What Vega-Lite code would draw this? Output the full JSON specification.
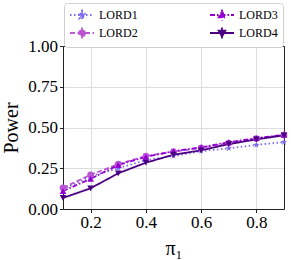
{
  "$schema": "https://vega.github.io/schema/vega-lite/v6.json",
  "autosize": "none",
  "width": 221,
  "height": 163,
  "padding": {"left": 63, "top": 46, "right": 7, "bottom": 51},
  "background": "white",
  "config": {
    "font": "Liberation Serif",
    "view": {"stroke": null},
    "legend": {"labelFont": "Liberation Serif"},
    "axis": {
      "domain": true,
      "domainColor": "#222",
      "domainWidth": 1,
      "tickColor": "#222",
      "tickSize": 3.5,
      "labelColor": "#000",
      "labelFontSize": 17,
      "labelFont": "Liberation Serif",
      "titleFont": "Liberation Serif",
      "titleFontWeight": "normal",
      "titleColor": "#000",
      "titleFontSize": 20,
      "gridColor": "#dddddd",
      "gridWidth": 1,
      "labelPadding": 2
    }
  },
  "data": {"values": [
    {"method": "LORD1", "pi": 0.1, "power": 0.12},
    {"method": "LORD1", "pi": 0.2, "power": 0.2},
    {"method": "LORD1", "pi": 0.3, "power": 0.25},
    {"method": "LORD1", "pi": 0.4, "power": 0.3},
    {"method": "LORD1", "pi": 0.5, "power": 0.325},
    {"method": "LORD1", "pi": 0.6, "power": 0.355},
    {"method": "LORD1", "pi": 0.7, "power": 0.372},
    {"method": "LORD1", "pi": 0.8, "power": 0.393},
    {"method": "LORD1", "pi": 0.9, "power": 0.41},
    {"method": "LORD2", "pi": 0.1, "power": 0.13},
    {"method": "LORD2", "pi": 0.2, "power": 0.21},
    {"method": "LORD2", "pi": 0.3, "power": 0.275},
    {"method": "LORD2", "pi": 0.4, "power": 0.325},
    {"method": "LORD2", "pi": 0.5, "power": 0.352},
    {"method": "LORD2", "pi": 0.6, "power": 0.375},
    {"method": "LORD2", "pi": 0.7, "power": 0.405},
    {"method": "LORD2", "pi": 0.8, "power": 0.432},
    {"method": "LORD2", "pi": 0.9, "power": 0.455},
    {"method": "LORD3", "pi": 0.1, "power": 0.11},
    {"method": "LORD3", "pi": 0.2, "power": 0.185},
    {"method": "LORD3", "pi": 0.3, "power": 0.27},
    {"method": "LORD3", "pi": 0.4, "power": 0.32},
    {"method": "LORD3", "pi": 0.5, "power": 0.355},
    {"method": "LORD3", "pi": 0.6, "power": 0.378},
    {"method": "LORD3", "pi": 0.7, "power": 0.41},
    {"method": "LORD3", "pi": 0.8, "power": 0.435},
    {"method": "LORD3", "pi": 0.9, "power": 0.455},
    {"method": "LORD4", "pi": 0.1, "power": 0.068},
    {"method": "LORD4", "pi": 0.2, "power": 0.127},
    {"method": "LORD4", "pi": 0.3, "power": 0.219},
    {"method": "LORD4", "pi": 0.4, "power": 0.284},
    {"method": "LORD4", "pi": 0.5, "power": 0.333},
    {"method": "LORD4", "pi": 0.6, "power": 0.36},
    {"method": "LORD4", "pi": 0.7, "power": 0.398},
    {"method": "LORD4", "pi": 0.8, "power": 0.427},
    {"method": "LORD4", "pi": 0.9, "power": 0.452}
  ]},
  "resolve": {"axis": {"x": "independent", "y": "independent"}},
  "layer": [
    {
      "encoding": {
        "x": {"field": "pi", "type": "quantitative", "title": "π₁",
          "scale": {"domain": [0.1, 0.9], "nice": false, "zero": false},
          "axis": {"orient": "bottom", "values": [0.2, 0.4, 0.6, 0.8], "format": ".1f", "titlePadding": 8}},
        "y": {"field": "power", "type": "quantitative", "title": "Power",
          "scale": {"domain": [0, 1], "nice": false},
          "axis": {"orient": "left", "values": [0, 0.25, 0.5, 0.75, 1], "format": ".2f", "titlePadding": 6}},
        "color": {"field": "method", "type": "nominal",
          "scale": {"domain": ["LORD1", "LORD3", "LORD2", "LORD4"], "range": ["#7b68ee", "#9400d3", "#ba55d3", "#4b0082"]},
          "legend": {
            "title": null, "orient": "none", "legendX": 1, "legendY": -43,
            "direction": "horizontal", "columns": 2, "columnPadding": 68, "rowPadding": 0,
            "labelFontSize": 12, "labelFont": "Liberation Serif", "labelColor": "#000",
            "symbolSize": 144, "symbolStrokeWidth": 1.8, "symbolOffset": 6, "labelOffset": 10,
            "padding": 5, "fillColor": "white", "strokeColor": "#d0d0d0", "cornerRadius": 3,
            "encode": {"symbols": {"update": {
              "shape": {"signal": "datum.value === 'LORD1' ? 'M-2,0H2M0,-0.9V0.9M0,-0.65L0.153,-0.211L0.618,-0.201L0.247,0.081L0.382,0.526L0,0.26L-0.382,0.526L-0.247,0.081L-0.618,-0.201L-0.153,-0.211Z' : datum.value === 'LORD2' ? 'M-2,0H2M0,-0.9V0.9M0.5,0A0.5,0.5 0 1,1 -0.5,0A0.5,0.5 0 1,1 0.5,0Z' : datum.value === 'LORD3' ? 'M-2,0H2M0,-0.9V0.9M0,-0.6L0.55,0.38L-0.55,0.38Z' : 'M-2,0H2M0,-0.9V0.9M0,0.6L0.55,-0.38L-0.55,-0.38Z'"},
              "fill": {"signal": "scale('color', datum.value)"},
              "strokeDash": {"signal": "datum.value === 'LORD1' ? [1.5, 2.5] : datum.value === 'LORD2' ? [5, 2.5] : datum.value === 'LORD3' ? [5, 2, 1.5, 2] : [1, 0]"}
            }}}
          }}
      },
      "layer": [
        {
          "mark": {"type": "line", "strokeWidth": 1.8},
          "encoding": {
            "strokeDash": {"field": "method", "type": "nominal", "legend": null,
              "scale": {"domain": ["LORD1", "LORD2", "LORD3", "LORD4"], "range": [[1.5, 2.5], [5, 2.5], [5, 2, 1.5, 2], [1, 0]]}}
          }
        },
        {
          "mark": {"type": "point", "filled": true, "opacity": 1, "size": 45},
          "encoding": {
            "shape": {"field": "method", "type": "nominal", "legend": null,
              "scale": {"domain": ["LORD1", "LORD2", "LORD3", "LORD4"], "range": ["M0,-1L0.235,-0.324L0.951,-0.309L0.380,0.124L0.588,0.809L0,0.4L-0.588,0.809L-0.380,0.124L-0.951,-0.309L-0.235,-0.324Z", "circle", "triangle-up", "triangle-down"]}}
          }
        }
      ]
    },
    {
      "mark": {"type": "point", "opacity": 0},
      "encoding": {
        "x": {"field": "pi", "type": "quantitative",
          "axis": {"orient": "top", "labels": false, "ticks": false, "grid": false, "title": null}},
        "y": {"field": "power", "type": "quantitative",
          "axis": {"orient": "right", "labels": false, "ticks": false, "grid": false, "title": null}}
      }
    }
  ]
}
